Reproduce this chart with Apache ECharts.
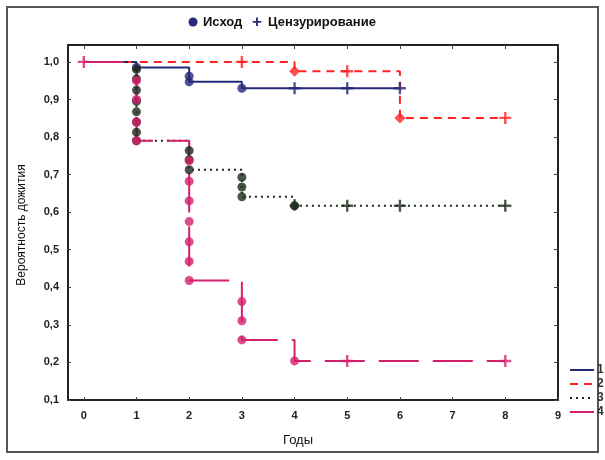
<!DOCTYPE html>
<html><head><meta charset="utf-8">
<script src="https://cdn.jsdelivr.net/npm/echarts@6/dist/echarts.min.js"></script>
<style>html,body{margin:0;padding:0;background:#fff}#c{width:605px;height:460px}</style>
</head><body><div id="c"></div>
<script>
const xTicks = [0,1,2,3,4,5,6,7,8,9];
const yTicks = [0.1,0.2,0.3,0.4,0.5,0.6,0.7,0.8,0.9,1.0];
const seriesNames = ['1','2','3','4'];
// step curves: [time, survival]
const curve1 = [[0,1],[1,0.985],[2,0.947],[3,0.93],[6,0.93]];
const curve2 = [[0,1],[4,0.975],[6,0.851],[8,0.851]];
const curve3 = [[0,1],[1,0.79],[2,0.713],[3,0.641],[4,0.617],[8,0.617]];
const curve4 = [[0,1],[1,0.79],[2,0.418],[3,0.26],[4,0.204],[8,0.204]];
// events (Исход)
const events1 = [[1,0.985],[2,0.962],[2,0.947],[3,0.93]];
const events2 = [[4,0.975],[6,0.851]];
const events3 = [[1,0.98],[1,0.955],[1,0.925],[1,0.895],[1,0.867],[1,0.84],[1,0.813],[1,0.79],[2,0.764],[2,0.74],[2,0.713],[3,0.693],[3,0.667],[3,0.641],[4,0.617]];
const events4 = [[1,0.95],[1,0.9],[1,0.84],[1,0.79],[2,0.737],[2,0.682],[2,0.63],[2,0.575],[2,0.521],[2,0.469],[2,0.418],[3,0.362],[3,0.311],[3,0.26],[4,0.204]];
// censored (Цензурирование)
const cens1 = [[4,0.93],[5,0.93],[6,0.93]];
const cens2 = [[3,1.0],[5,0.975],[8,0.851]];
const cens3 = [[5,0.617],[6,0.617],[8,0.617]];
const cens4 = [[0,1.0],[5,0.204],[8,0.204]];

const colors = ['#27297a','#ff2222','#1c2a1c','#d61f6c'];
const dashes = ['solid',[8,6],[2,4],[40,14]];
const plus = 'path://M4,0H6V4H10V6H6V10H4V6H0V4H4Z';
const FONT = 'Liberation Sans, Arial, sans-serif';

const curves=[curve1,curve2,curve3,curve4];
const evs=[events1,events2,events3,events4];
const cens=[cens1,cens2,cens3,cens4];
const evSym=['circle','diamond','circle','circle'];

const series=[];
for(let i=0;i<4;i++){
  series.push({name:seriesNames[i],type:'line',step:'end',data:curves[i],symbol:'none',
    lineStyle:{color:colors[i],width:2,type:dashes[i]},itemStyle:{color:colors[i]},z:2+i});
}
for(let i=0;i<4;i++){
  series.push({name:'ev'+i,type:'scatter',data:evs[i],symbol:evSym[i],symbolSize:i==1?11:9,
    itemStyle:{color:colors[i]},z:10});
  series.push({name:'ce'+i,type:'scatter',data:cens[i],symbol:plus,symbolSize:12,
    itemStyle:{color:colors[i]},z:10});
}
series.push({name:'ev3d',type:'scatter',data:[events3[events3.length-1]],symbol:'diamond',symbolSize:11,itemStyle:{color:colors[2]},z:11});

const axisLine={onZero:false,lineStyle:{color:'#222',width:2}};
const chart=echarts.init(document.getElementById('c'),null,{renderer:'canvas'});
chart.setOption({
  animation:false,
  grid:{left:68,right:47,top:45,bottom:60},
  legend:{data:seriesNames,orient:'vertical',left:564,top:359,itemWidth:24,itemHeight:10,itemGap:2,
    itemStyle:{opacity:0},
    textStyle:{fontFamily:FONT,fontSize:12,fontWeight:'bold',color:'#333',padding:[0,0,0,-2]}},
  xAxis:[{type:'value',min:-0.3,max:9,
    axisLine:axisLine,splitLine:{show:false},
    axisTick:{inside:true,length:3,customValues:xTicks,lineStyle:{color:'#444'}},
    axisLabel:{customValues:xTicks,fontFamily:FONT,fontSize:11,fontWeight:'bold',color:'#222',margin:10}},
    {type:'value',min:-0.3,max:9,position:'top',axisLine:axisLine,splitLine:{show:false},
    axisTick:{inside:true,length:4,customValues:xTicks,lineStyle:{color:'#444'}},axisLabel:{show:false}}],
  yAxis:[{type:'value',min:0.1,max:1.045,
    axisLine:axisLine,splitLine:{show:false},
    axisTick:{inside:true,length:3,customValues:yTicks,lineStyle:{color:'#444'}},
    axisLabel:{customValues:yTicks,fontFamily:FONT,fontSize:11,fontWeight:'bold',color:'#222',margin:9,
      formatter:v=>v.toFixed(1).replace('.',',')}},
    {type:'value',min:0.1,max:1.045,position:'right',axisLine:axisLine,splitLine:{show:false},
    axisTick:{inside:true,length:4,customValues:yTicks,lineStyle:{color:'#444'}},axisLabel:{show:false}}],
  series:series,
  graphic:[
    {type:'rect',shape:{x:7,y:7,width:591,height:445},style:{fill:'none',stroke:'#555',lineWidth:2}},
    {type:'circle',shape:{cx:193,cy:22,r:4.5},style:{fill:'#27297a'}},
    {type:'text',x:203,y:22,style:{text:'Исход',font:'bold 13px '+FONT,fill:'#111',textVerticalAlign:'middle'}},
    {type:'text',x:257,y:22,style:{text:'+',font:'bold 17px '+FONT,fill:'#27297a',textAlign:'center',textVerticalAlign:'middle'}},
    {type:'text',x:268,y:22,style:{text:'Цензурирование',font:'bold 13px '+FONT,fill:'#111',textVerticalAlign:'middle'}},
    {type:'text',x:22,y:225,rotation:Math.PI/2,style:{text:'Вероятность дожития',font:'12px '+FONT,fill:'#111',textAlign:'center',textVerticalAlign:'middle'}},
    {type:'text',x:298,y:440,style:{text:'Годы',font:'13px '+FONT,fill:'#111',textAlign:'center',textVerticalAlign:'middle'}}
  ]
});
</script></body></html>
